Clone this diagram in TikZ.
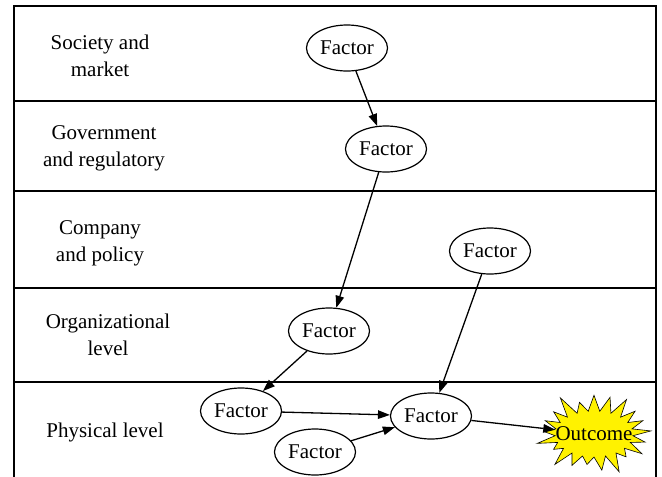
\documentclass[tikz,border=0pt]{standalone}
\usepackage{fontspec}
\setmainfont{Liberation Serif}
\newfontfamily\diagfont{Liberation Serif}
\usetikzlibrary{shapes.geometric,shapes.symbols,arrows.meta}
\begin{document}
\begin{tikzpicture}[x=1pt,y=-1pt,
  factor/.style={draw, ellipse, line width=1.2pt, minimum width=81pt, minimum height=46pt,
    inner sep=0pt, font=\diagfont\fontsize{21}{25}\selectfont},
  lanelabel/.style={align=center, font=\diagfont\fontsize{21}{27}\selectfont},
  link/.style={line width=1.3pt, -{Triangle[length=12pt,width=8.5pt]}},
  lanerule/.style={line width=1.5pt},
  burst/.style={starburst, draw, fill=yellow, line width=0.6pt, starburst points=21,
    starburst point height=22pt, minimum width=122pt, minimum height=90pt,
    inner sep=0pt},
  bursttext/.style={inner sep=0pt, font=\diagfont\fontsize{21}{25}\selectfont}]
\useasboundingbox (0,0) rectangle (662,477);

% swimlane frame, open at the bottom
\draw[lanerule] (14,477) -- (14,6) -- (656,6) -- (656,477);
\foreach \y in {101,191,288,382}
  \draw[lanerule] (14,\y) -- (656,\y);

% lane titles
\node[lanelabel] (l1) at (100,56) {Society and\\market};
\node[lanelabel] (l2) at (104,148) {Government\\and regulatory};
\node[lanelabel] (l3) at (100,243) {Company\\and policy};
\node[lanelabel] (l4) at (108,335) {Organizational\\level};
\node[lanelabel] (l5) at (105,432) {Physical level};

% factors
\node[factor] (f1) at (347,48) {Factor};
\node[factor] (f2) at (386,149) {Factor};
\node[factor] (f3) at (490,251) {Factor};
\node[factor] (f4) at (329,331) {Factor};
\node[factor] (f5) at (241,411) {Factor};
\node[factor] (f6) at (431,416) {Factor};
\node[factor] (f7) at (315,452) {Factor};

% outcome: starburst with its caption on top
\node[burst] (out) at (594,434) {};
\node[bursttext] (outtext) at (out.center) {Outcome};

% causal links
\draw[link] (f1) -- (f2);
\draw[link] (f2) -- (f4);
\draw[link] (f4) -- (f5);
\draw[link] (f3) -- (f6);
\draw[link] (f5) -- (f6);
\draw[link] (f7) -- (f6);
\draw[link] (f6) -- (outtext);
\end{tikzpicture}
\end{document}
